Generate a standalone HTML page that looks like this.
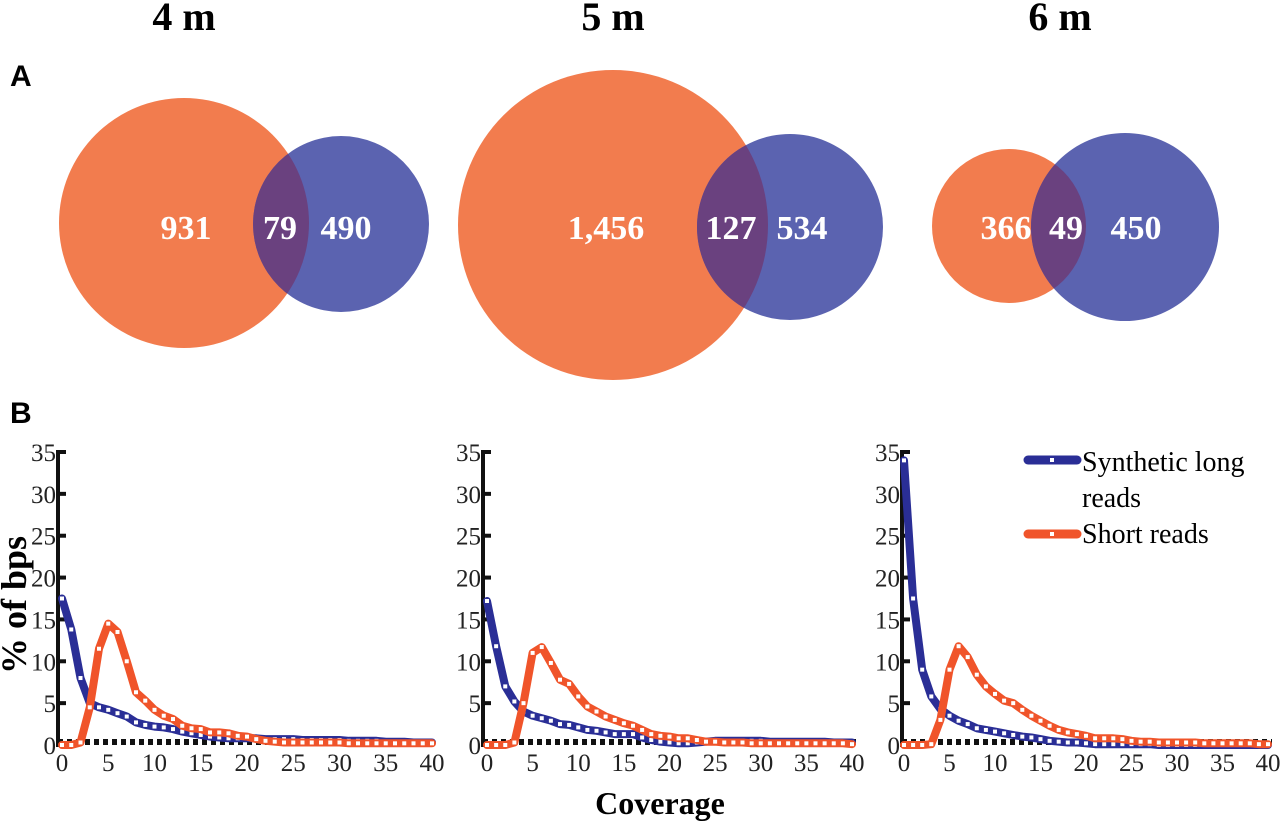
<!DOCTYPE html>
<html><head><meta charset="utf-8"><style>
body{margin:0;background:#fff;width:1280px;height:822px;overflow:hidden}
svg text{font-family:"Liberation Serif",serif}
</style></head><body>
<svg id="fig" width="1280" height="822" viewBox="0 0 1280 822" xmlns="http://www.w3.org/2000/svg">
<defs>
<clipPath id="c1"><circle cx="184" cy="223" r="125"/></clipPath>
<clipPath id="c2"><circle cx="613" cy="225" r="155"/></clipPath>
<clipPath id="c3"><circle cx="1009" cy="226" r="77"/></clipPath>
</defs>
<text x="184" y="30" font-size="40" font-weight="bold" text-anchor="middle">4 m</text>
<text x="613" y="30" font-size="40" font-weight="bold" text-anchor="middle">5 m</text>
<text x="1060" y="30" font-size="40" font-weight="bold" text-anchor="middle">6 m</text>
<text x="10" y="86" font-size="30" font-weight="bold" style="font-family:'Liberation Sans',sans-serif">A</text>
<text x="10" y="423" font-size="30" font-weight="bold" style="font-family:'Liberation Sans',sans-serif">B</text>

<g>
<circle cx="184" cy="223" r="125" fill="#f27c4e"/>
<circle cx="341" cy="224" r="88" fill="#5b63b0"/>
<circle cx="341" cy="224" r="88" fill="#6a417f" clip-path="url(#c1)"/>
</g>
<g>
<circle cx="613" cy="225" r="155" fill="#f27c4e"/>
<circle cx="790" cy="227" r="93" fill="#5b63b0"/>
<circle cx="790" cy="227" r="93" fill="#6a417f" clip-path="url(#c2)"/>
</g>
<g>
<circle cx="1009" cy="226" r="77" fill="#f27c4e"/>
<circle cx="1125" cy="227" r="94" fill="#5b63b0"/>
<circle cx="1125" cy="227" r="94" fill="#6a417f" clip-path="url(#c3)"/>
</g>
<g fill="#fff" font-size="34" font-weight="bold" text-anchor="middle">
<text x="186" y="239">931</text>
<text x="280" y="239">79</text>
<text x="346" y="239">490</text>
<text x="606" y="239">1,456</text>
<text x="731" y="239">127</text>
<text x="802" y="239">534</text>
<text x="1006" y="239">366</text>
<text x="1066" y="239">49</text>
<text x="1136" y="239">450</text>
</g>

<text transform="translate(26,605) rotate(-90)" font-size="36" font-weight="bold" text-anchor="middle">% of bps</text>
<text x="660" y="814" font-size="32" font-weight="bold" text-anchor="middle">Coverage</text>

<g>
<line x1="1028" y1="460" x2="1077" y2="460" stroke="#2a2e96" stroke-width="9" stroke-linecap="round"/>
<rect x="1050" y="458" width="4" height="4" fill="#fff"/>
<text x="1082" y="471" font-size="28">Synthetic long</text>
<text x="1082" y="507" font-size="28">reads</text>
<line x1="1028" y1="534" x2="1077" y2="534" stroke="#f0542a" stroke-width="9" stroke-linecap="round"/>
<rect x="1050" y="532" width="4" height="4" fill="#fff"/>
<text x="1082" y="543" font-size="28">Short reads</text>
</g>
<g id="charts"></g>
</svg>
<script>
const xTicks=[0,5,10,15,20,25,30,35,40];
const yTicks=[0,5,10,15,20,25,30,35];
const long4=[17.5,13.8,8,5,4.5,4.2,3.8,3.4,2.7,2.4,2.2,2.1,1.9,1.6,1.4,1.2,1.0,0.9,0.8,0.8,0.8,0.8,0.7,0.7,0.7,0.7,0.6,0.6,0.6,0.6,0.6,0.5,0.5,0.5,0.5,0.4,0.4,0.4,0.3,0.3,0.3];
const short4=[0,0,0.3,4.5,11.5,14.5,13.5,10,6.3,5.3,4.2,3.5,3.1,2.3,2.0,1.9,1.5,1.5,1.4,1.1,1.0,0.7,0.5,0.4,0.3,0.3,0.3,0.3,0.3,0.3,0.3,0.2,0.2,0.2,0.2,0.2,0.2,0.2,0.2,0.2,0.2];
const long5=[17.2,11.8,7,5.2,4,3.5,3.2,2.9,2.5,2.4,2.1,1.8,1.7,1.5,1.3,1.3,1.3,0.9,0.6,0.4,0.3,0.2,0.2,0.3,0.4,0.5,0.5,0.5,0.5,0.5,0.5,0.4,0.4,0.4,0.4,0.4,0.4,0.4,0.3,0.3,0.3];
const short5=[0,0,0,0.3,5,11,11.7,9.8,7.8,7.3,5.8,4.6,4,3.4,3,2.6,2.3,1.8,1.3,1.1,1,0.8,0.8,0.6,0.4,0.4,0.3,0.3,0.3,0.2,0.2,0.2,0.2,0.2,0.2,0.2,0.2,0.2,0.2,0.2,0.1];
const long6=[34,17.5,9,5.8,4.3,3.5,2.9,2.5,2,1.8,1.6,1.4,1.2,1,0.9,0.7,0.5,0.4,0.3,0.3,0.2,0.1,0.1,0.1,0.1,0.1,0.1,0.1,0,0,0,0,0,0,0,0,0,0,0,0,0];
const short6=[0,0,0,0.1,3,9,11.8,10.5,8.4,7,6.1,5.3,5,4.2,3.5,2.9,2.3,1.8,1.5,1.3,1.1,0.8,0.8,0.8,0.7,0.5,0.4,0.4,0.3,0.3,0.3,0.3,0.3,0.2,0.2,0.2,0.2,0.2,0.2,0.1,0.1];
const panels=[{name:'4m',ax:58,x0:62,x1:432,long:long4,short:short4},
{name:'5m',ax:483,x0:487,x1:852,long:long5,short:short5},
{name:'6m',ax:902,x0:904,x1:1268,long:long6,short:short6}];
const NS='http://www.w3.org/2000/svg';
const root=document.getElementById('charts');
const Y0=745,Y35=452;
function yS(v){return Y0-(Y0-Y35)*v/35;}
function mk(t,a,p){const e=document.createElementNS(NS,t);for(const k in a)e.setAttribute(k,a[k]);(p||root).appendChild(e);return e;}
panels.forEach(p=>{
  const xS=v=>p.x0+(p.x1-p.x0)*v/40;
  const g=mk('g',{});
  
  
  const ax=mk('line',{x1:p.ax,y1:Y35-2,x2:p.ax,y2:Y0+2,stroke:'#111','stroke-width':4},g);
  
  
  yTicks.forEach(t=>{
    const y=yS(t);
    const tk=mk('line',{x1:p.ax,y1:y,x2:p.ax+8,y2:y,stroke:'#111','stroke-width':4},g);
    
    
    const tx=mk('text',{x:p.ax-2,y:y+9,'font-size':25,'text-anchor':'end',fill:'#222'},g);
    tx.textContent=t;
    
    
  });
  const bl=mk('line',{x1:p.ax,y1:Y0-3,x2:p.x1+4,y2:Y0-3,stroke:'#111','stroke-width':6,'stroke-dasharray':'5 4'},g);
  
  
  xTicks.forEach(t=>{
    const tx=mk('text',{x:xS(t),y:Y0+26,'font-size':25,'text-anchor':'middle',fill:'#222'},g);
    tx.textContent=t;
    
    
  });
  [['long','#2a2e96'],['short','#f0542a']].forEach(([k,c])=>{
    const d=p[k].map((v,i)=>(i?'L':'M')+xS(i).toFixed(1)+','+yS(v).toFixed(1)).join('');
    const ln=mk('path',{d:d,fill:'none',stroke:c,'stroke-width':8,'stroke-linejoin':'round','stroke-linecap':'round'},g);
    
    
    p[k].forEach((v,i)=>{
      const r=mk('rect',{x:xS(i)-2,y:yS(v)-2,width:4,height:4,fill:'#fff'},g);
      
      
    });
  });
});
</script>
</body></html>
